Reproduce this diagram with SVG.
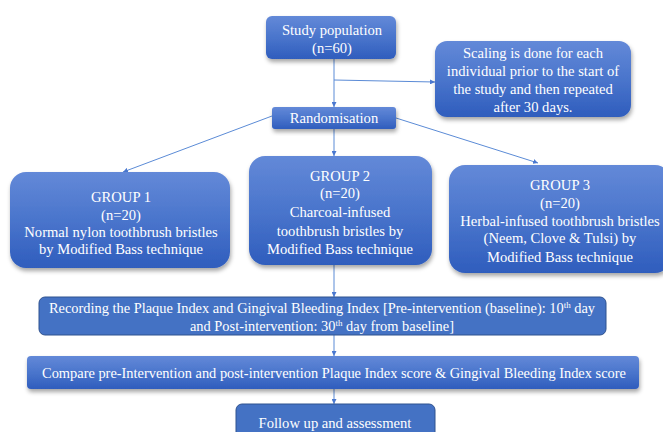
<svg xmlns="http://www.w3.org/2000/svg" width="663" height="432" viewBox="0 0 663 432">
<defs>
<linearGradient id="g" x1="0" y1="0" x2="0" y2="1">
<stop offset="0" stop-color="#6389d8"/>
<stop offset="0.5" stop-color="#4a75cc"/>
<stop offset="1" stop-color="#2f5dbd"/>
</linearGradient>
<filter id="sh" x="-10%" y="-10%" width="125%" height="140%">
<feDropShadow dx="1" dy="3" stdDeviation="2" flood-color="#000" flood-opacity="0.35"/>
</filter>
<marker id="ar" viewBox="0 0 10 10" refX="10" refY="5" markerWidth="5" markerHeight="5" orient="auto" markerUnits="userSpaceOnUse">
<path d="M0,0 L10,5 L0,10 z" fill="#4a78d0"/>
</marker>
<style>
.gb{fill:url(#g);filter:url(#sh);}
.fb{fill:#4472c4;stroke:#2f528f;stroke-width:1;}
text{font-size:14.6px;fill:#ffffff;text-anchor:middle;}
.s{font-size:14.4px;}
.c{stroke:#5b8bd6;stroke-width:1;fill:none;marker-end:url(#ar);}
</style>
</defs>
<rect width="663" height="432" fill="#ffffff"/>
<g id="connectors">
<line class="c" x1="334" y1="59" x2="334" y2="107"/>
<line class="c" x1="334" y1="80" x2="435" y2="82"/>
<line class="c" x1="272" y1="116" x2="123" y2="172"/>
<line class="c" x1="334" y1="129" x2="334" y2="156"/>
<line class="c" x1="396" y1="118" x2="538" y2="163"/>
<line class="c" x1="334" y1="265" x2="334" y2="297"/>
<line class="c" x1="334" y1="335" x2="334" y2="356"/>
<line class="c" x1="334" y1="389" x2="334" y2="404"/>
</g>
<g font-family="'Liberation Serif', 'Times New Roman', 'DejaVu Serif', serif">
<g id="study">
<rect class="gb" x="266" y="16" width="130" height="43" rx="6"/>
<text x="332" y="35">Study population</text>
<text x="332" y="53">(n=60)</text>
</g>
<g id="scaling">
<rect class="gb" x="435" y="41" width="196" height="76" rx="12"/>
<text x="533" y="58">Scaling is done for each</text>
<text x="533" y="76">individual prior to the start of</text>
<text x="533" y="94">the study and then repeated</text>
<text x="533" y="112">after 30 days.</text>
</g>
<g id="randomisation">
<rect class="gb" x="272" y="107" width="124" height="22" rx="3"/>
<text x="334" y="123">Randomisation</text>
</g>
<g id="group1">
<rect class="gb" x="10" y="172" width="220" height="96" rx="16"/>
<text x="121" y="202">GROUP 1</text>
<text x="121" y="220">(n=20)</text>
<text x="121" y="237">Normal nylon toothbrush bristles</text>
<text x="121" y="254">by Modified Bass technique</text>
</g>
<g id="group2">
<rect class="gb" x="249" y="156" width="183" height="109" rx="16"/>
<text x="340" y="181">GROUP 2</text>
<text x="340" y="198">(n=20)</text>
<text x="340" y="217">Charcoal-infused</text>
<text x="340" y="236">toothbrush bristles by</text>
<text x="340" y="254">Modified Bass technique</text>
</g>
<g id="group3">
<rect class="gb" x="449" y="165" width="222" height="108" rx="16"/>
<text x="560" y="190">GROUP 3</text>
<text x="560" y="208">(n=20)</text>
<text x="560" y="226">Herbal-infused toothbrush bristles</text>
<text x="560" y="243">(Neem, Clove &amp; Tulsi) by</text>
<text x="560" y="262">Modified Bass technique</text>
</g>
<g id="recording">
<rect class="fb" x="39" y="297" width="567" height="38" rx="6"/>
<text class="s" x="322" y="313">Recording the Plaque Index and Gingival Bleeding Index [Pre-intervention (baseline): 10<tspan font-size="9" dy="-5">th</tspan><tspan dy="5"> day</tspan></text>
<text class="s" x="322" y="331">and Post-intervention: 30<tspan font-size="9" dy="-5">th</tspan><tspan dy="5"> day from baseline]</tspan></text>
</g>
<g id="compare">
<rect class="gb" x="27" y="356" width="612" height="33" rx="4"/>
<text class="s" x="334" y="378">Compare pre-Intervention and post-intervention Plaque Index score &amp; Gingival Bleeding Index score</text>
</g>
<g id="followup">
<rect class="fb" x="236" y="404" width="199" height="40" rx="6"/>
<text x="335" y="428">Follow up and assessment</text>
</g>
</g>
</svg>
